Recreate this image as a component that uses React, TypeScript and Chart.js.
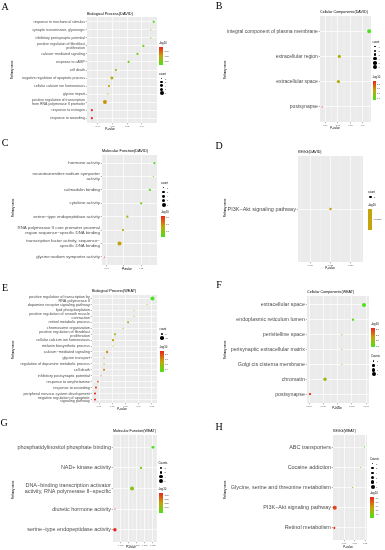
import React, { useEffect, useRef } from "react";
import { Chart, registerables } from "chart.js";
Chart.register(...registerables);

const FONT = "'Liberation Sans', Arial, Helvetica, sans-serif";
const SERIF = "'Liberation Serif', 'Times New Roman', serif";
Chart.defaults.font.family = FONT;

// ---------------- DATA ----------------
// A: Biological Process (DAVID)
const aPathways: (string | string[])[] = [
  "response to mechanical stimulus",
  "synaptic transmission, glycinergic",
  "inhibitory postsynaptic potential",
  ["positive regulation of fibroblast", "proliferation"],
  "calcium−mediated signaling",
  "response to cAMP",
  "cell death",
  "negative regulation of apoptotic process",
  "cellular calcium ion homeostasis",
  "glycine import",
  ["positive regulation of transcription", "from RNA polymerase II promoter"],
  "response to estrogen",
  "response to wounding",
];
const aPValues = [0.048, 0.046, 0.046, 0.041, 0.037, 0.031, 0.0224, 0.0197, 0.0177, 0.017, 0.015, 0.0062, 0.0062];
const aCounts = [3, 2, 2, 3, 3, 3, 3, 4, 3, 2, 6, 3, 3];
const aXTicks = [0.01, 0.02, 0.03, 0.04];
const aColorBreaks = [1.5, 1.75, 2.0];
const aCountBreaks = [2, 3, 4, 5, 6];

// B: Cellular Components (DAVID)
const bPathways: (string | string[])[] = [
  "integral component of plasma membrane",
  "extracellular region",
  "extracellular space",
  "postsynapse",
];
const bPValues = [0.045, 0.0212, 0.0205, 0.0075];
const bCounts = [6, 4, 4, 1];
const bXTicks = [0.01, 0.02, 0.03, 0.04];
const bColorBreaks = [1.4, 1.6, 1.8, 2.0];
const bCountBreaks = [1, 2, 3, 4, 5, 6];

// C: Molecular Function (DAVID)
const cPathways: (string | string[])[] = [
  "hormone activity",
  ["neurotransmitter:sodium symporter", "activity"],
  "calmodulin binding",
  "cytokine activity",
  "serine−type endopeptidase activity",
  ["RNA polymerase II core promoter proximal", "region sequence−specific DNA binding"],
  ["transcription factor activity, sequence−", "specific DNA binding"],
  "glycine:sodium symporter activity",
];
const cPValues = [0.0376, 0.037, 0.035, 0.03, 0.022, 0.0195, 0.0175, 0.0088];
const cCounts = [3, 2, 3, 3, 3, 3, 6, 2];
const cXTicks = [0.01, 0.02, 0.03];
const cColorBreaks = [1.6, 1.8, 2.0];
const cCountBreaks = [2, 3, 4, 5, 6];

// D: KEGG (DAVID)
const dPathways: (string | string[])[] = ["PI3K−Akt signaling pathway"];
const dPValues = [0.025];
const dCounts = [3];
const dXTicks = [0.024, 0.025, 0.026];
const dColorBreaks = [1.60206];
const dCountBreaks = [3];

// E: Biological Process (WEAT)
const ePathways: (string | string[])[] = [
  ["positive regulation of transcription by", "RNA polymerase II"],
  "dopamine receptor signaling pathway",
  "lipid phosphorylation",
  ["positive regulation of smooth muscle", "contraction"],
  "retinol metabolic process",
  "chromosome organization",
  ["positive regulation of fibroblast", "proliferation"],
  "cellular calcium ion homeostasis",
  "melanin biosynthetic process",
  "calcium−mediated signaling",
  "glycine transport",
  "regulation of dopamine metabolic process",
  "cell death",
  "inhibitory postsynaptic potential",
  "response to amphetamine",
  "response to wounding",
  "peripheral nervous system development",
  ["negative regulation of apoptotic", "signaling pathway"],
];
const ePValues = [0.0505, 0.0464, 0.0365, 0.0365, 0.032, 0.0282, 0.0221, 0.0206, 0.0206, 0.0161, 0.0138, 0.0138, 0.0138, 0.0115, 0.0092, 0.0077, 0.007, 0.007];
const eCounts = [12, 2, 2, 2, 4, 2, 4, 5, 2, 5, 2, 2, 4, 2, 3, 4, 4, 4];
const eXTicks = [0.01, 0.02, 0.03, 0.04, 0.05];
const eColorBreaks = [1.4, 1.6, 1.8, 2.0];
const eCountBreaks = [5, 10];

// F: Cellular Components (WEAT)
const fPathways: (string | string[])[] = [
  "extracellular space",
  "endoplasmic reticulum lumen",
  "perivitelline space",
  "perisynaptic extracellular matrix",
  "Golgi cis cisterna membrane",
  "chromatin",
  "postsynapse",
];
const fPValues = [0.0385, 0.0308, 0.023, 0.023, 0.023, 0.0112, 0.0007];
const fCounts = [8, 3, 1, 1, 1, 6, 3];
const fXTicks = [0.0, 0.01, 0.02, 0.03, 0.04];
const fColorBreaks = [1.5, 2.0, 2.5, 3.0];
const fCountBreaks = [2, 4, 6, 8];

// G: Molecular Function (WEAT)
const gPathways: (string | string[])[] = [
  "phosphatidylinositol phosphate binding",
  "NAD+ kinase activity",
  ["DNA−binding transcription activator", "activity, RNA polymerase II−specific"],
  "diuretic hormone activity",
  "serine−type endopeptidase activity",
];
const gPValues = [0.0251, 0.0176, 0.012, 0.0013, 0.0013];
const gCounts = [3, 2, 5, 1, 4];
const gXTicks = [0.005, 0.01, 0.015, 0.02, 0.025];
const gColorBreaks = [2.0, 2.25, 2.5, 2.75];
const gCountBreaks = [2, 3, 4, 5];

// H: KEGG (WEAT)
const hPathways: (string | string[])[] = [
  "ABC transporters",
  "Cocaine addiction",
  "Glycine, serine and threonine metabolism",
  "PI3K−Akt signaling pathway",
  "Retinol metabolism",
];
const hPValues = [0.0295, 0.0257, 0.0181, 0.0012, 0.0008];
const hCounts = [2, 2, 2, 7, 3];
const hXTicks = [0.01, 0.02, 0.03];
const hColorBreaks = [1.8, 2.1, 2.4, 2.7, 3.0];
const hCountBreaks = [2, 3, 4, 5, 6, 7];

// ---------------- STYLE / LAYOUT ----------------
const LOW = [74, 226, 26];
const MID = [196, 164, 10];
const HIGH = [238, 36, 26];
const rgb = (c: number[]) => `rgb(${c.map((v) => Math.round(v)).join(",")})`;
function heat(t: number) {
  t = Math.max(0, Math.min(1, t));
  const mix = (a: number[], b: number[], u: number) => a.map((v, i) => v + (b[i] - v) * u);
  return rgb(t < 0.5 ? mix(LOW, MID, t * 2) : mix(MID, HIGH, (t - 0.5) * 2));
}
const RMIN = 0.55, RMAX = 2.0;
function sizeFor(c: number, cmin: number, cmax: number) {
  if (cmax === cmin) return 1.25;
  const t = (c - cmin) / (cmax - cmin);
  return Math.sqrt(RMIN * RMIN + t * (RMAX * RMAX - RMIN * RMIN));
}

const PADT = 8, PADR = 8, XH = 6;

interface Panel {
  letter: string; title: string;
  pathways: (string | string[])[]; pvalues: number[]; counts: number[];
  xTicks: number[]; xDigits: number; colorBreaks: number[]; colorDigits: number;
  countBreaks: number[]; countTitle: string;
  col: number; plot: [number, number, number, number]; xRange: [number, number];
  labelSize: number; titleSize: number;
  letterPos: [number, number]; pathwayPos: [number, number]; pvaluePos: [number, number];
  legendX: number; countY: number; dotGap: number; colorY: number; barW: number; barH: number;
}

const panels: Panel[] = [
  {
    letter: "A", title: "Biological Process(DAVID)", pathways: aPathways, pvalues: aPValues, counts: aCounts,
    xTicks: aXTicks, xDigits: 2, colorBreaks: aColorBreaks, colorDigits: 2, countBreaks: aCountBreaks, countTitle: "count",
    col: 0, plot: [87, 17, 157, 123], xRange: [0.0029, 0.0502], labelSize: 3.55, titleSize: 3.9,
    letterPos: [5, 7], pathwayPos: [12, 70], pvaluePos: [110, 128.5],
    legendX: 159, countY: 74, dotGap: 3.5, colorY: 43, barW: 4, barH: 18,
  },
  {
    letter: "B", title: "Cellular Components(DAVID)", pathways: bPathways, pvalues: bPValues, counts: bCounts,
    xTicks: bXTicks, xDigits: 2, colorBreaks: bColorBreaks, colorDigits: 1, countBreaks: bCountBreaks, countTitle: "count",
    col: 192, plot: [320, 16, 371, 122], xRange: [0.0058, 0.0465], labelSize: 5, titleSize: 3.7,
    letterPos: [219, 6], pathwayPos: [225, 70], pvaluePos: [335, 128],
    legendX: 372.5, countY: 42, dotGap: 4, colorY: 77, barW: 3, barH: 19,
  },
  {
    letter: "C", title: "Molecular Function(DAVID)", pathways: cPathways, pvalues: cPValues, counts: cCounts,
    xTicks: cXTicks, xDigits: 2, colorBreaks: cColorBreaks, colorDigits: 1, countBreaks: cCountBreaks, countTitle: "count",
    col: 0, plot: [102, 155, 157, 265], xRange: [0.0074, 0.0391], labelSize: 4.35, titleSize: 3.8,
    letterPos: [5, 143], pathwayPos: [13, 208], pvaluePos: [127, 269],
    legendX: 161, countY: 183, dotGap: 4.2, colorY: 212, barW: 3.5, barH: 21,
  },
  {
    letter: "D", title: "KEGG(DAVID)", pathways: dPathways, pvalues: dPValues, counts: dCounts,
    xTicks: dXTicks, xDigits: 3, colorBreaks: dColorBreaks, colorDigits: 5, countBreaks: dCountBreaks, countTitle: "count",
    col: 192, plot: [298, 156, 363, 262], xRange: [0.0234, 0.0266], labelSize: 5.5, titleSize: 3.6,
    letterPos: [219, 146], pathwayPos: [225, 208], pvaluePos: [330, 268],
    legendX: 368, countY: 192, dotGap: 4, colorY: 205, barW: 4, barH: 21,
  },
  {
    letter: "E", title: "Biological Process(WEAT)", pathways: ePathways, pvalues: ePValues, counts: eCounts,
    xTicks: eXTicks, xDigits: 2, colorBreaks: eColorBreaks, colorDigits: 1, countBreaks: eCountBreaks, countTitle: "count",
    col: 0, plot: [92, 295, 157, 403], xRange: [0.0047, 0.0539], labelSize: 3.75, titleSize: 3.8,
    letterPos: [5, 288], pathwayPos: [13, 350], pvaluePos: [122, 408.5],
    legendX: 159.5, countY: 329, dotGap: 4.5, colorY: 347, barW: 4, barH: 21,
  },
  {
    letter: "F", title: "Cellular Components(WEAT)", pathways: fPathways, pvalues: fPValues, counts: fCounts,
    xTicks: fXTicks, xDigits: 3, colorBreaks: fColorBreaks, colorDigits: 1, countBreaks: fCountBreaks, countTitle: "Counts",
    col: 192, plot: [307, 296, 369, 403], xRange: [-0.0014, 0.042], labelSize: 5.3, titleSize: 3.7,
    letterPos: [219, 285], pathwayPos: [225, 350], pvaluePos: [337, 408],
    legendX: 371, countY: 356, dotGap: 4.5, colorY: 324, barW: 3.5, barH: 19.5,
  },
  {
    letter: "G", title: "Molecular Function(WEAT)", pathways: gPathways, pvalues: gPValues, counts: gCounts,
    xTicks: gXTicks, xDigits: 3, colorBreaks: gColorBreaks, colorDigits: 2, countBreaks: gCountBreaks, countTitle: "Counts",
    col: 0, plot: [113, 435, 157, 542], xRange: [0.0001, 0.0276], labelSize: 5.45, titleSize: 3.6,
    letterPos: [4, 423], pathwayPos: [13, 490], pvaluePos: [131, 546.5],
    legendX: 158.5, countY: 463, dotGap: 4.4, colorY: 489, barW: 4.5, barH: 20.5,
  },
  {
    letter: "H", title: "KEGG(WEAT)", pathways: hPathways, pvalues: hPValues, counts: hCounts,
    xTicks: hXTicks, xDigits: 2, colorBreaks: hColorBreaks, colorDigits: 1, countBreaks: hCountBreaks, countTitle: "Counts",
    col: 192, plot: [333, 435, 367, 540], xRange: [-0.0005, 0.0319], labelSize: 5.45, titleSize: 3.6,
    letterPos: [219, 427], pathwayPos: [225, 490], pvaluePos: [348, 547],
    legendX: 370, countY: 459, dotGap: 4.6, colorY: 493, barW: 4, barH: 21,
  },
];

const bgPlugin = {
  id: "panelBg",
  beforeDraw(chart: any) {
    const { ctx, chartArea: a, scales } = chart;
    ctx.save();
    ctx.fillStyle = "#ebebeb";
    ctx.fillRect(a.left, a.top, a.right - a.left, a.bottom - a.top);
    const xs = scales.x;
    const tv: number[] = xs.ticks.map((t: any) => t.value);
    if (tv.length > 1) {
      const step = tv[1] - tv[0];
      const mids = [tv[0] - step / 2, ...tv.map((v) => v + step / 2)];
      ctx.strokeStyle = "rgba(255,255,255,0.7)";
      ctx.lineWidth = 0.35;
      mids.forEach((m) => {
        if (m <= xs.min || m >= xs.max) return;
        const px = xs.getPixelForValue(m);
        ctx.beginPath();
        ctx.moveTo(px, a.top);
        ctx.lineTo(px, a.bottom);
        ctx.stroke();
      });
    }
    ctx.restore();
  },
};

function logRange(p: Panel) {
  const lv = p.pvalues.map((v) => -Math.log10(v));
  return { lv, vmin: Math.min(...lv), vmax: Math.max(...lv) };
}

function PanelChart({ p }: { p: Panel }) {
  const ref = useRef<HTMLCanvasElement>(null);
  const [l, t, r, b] = p.plot;
  const left = p.col, top = t - PADT;
  const width = r + PADR - p.col, height = b + XH - top;
  useEffect(() => {
    const { lv, vmin, vmax } = logRange(p);
    const colors = lv.map((v) => heat(vmax > vmin ? (v - vmin) / (vmax - vmin) : 0.5));
    const cmin = Math.min(...p.counts), cmax = Math.max(...p.counts);
    const n = p.pathways.length;
    const grid = { color: "#ffffff", lineWidth: 0.7, drawTicks: true, tickLength: 1.3, tickColor: "#444444", tickWidth: 0.4 };
    const chart = new Chart(ref.current as HTMLCanvasElement, {
      type: "bubble",
      data: {
        datasets: [
          {
            data: p.pvalues.map((v, i) => ({ x: v, y: i, r: sizeFor(p.counts[i], cmin, cmax) })),
            backgroundColor: colors,
            borderWidth: 0,
            hoverBorderWidth: 0,
          },
        ],
      },
      options: {
        animation: false,
        responsive: false,
        maintainAspectRatio: false,
        events: [],
        layout: { padding: { top: PADT, right: PADR, left: 0, bottom: 0 } },
        plugins: { legend: { display: false }, tooltip: { enabled: false } },
        scales: {
          x: {
            type: "linear",
            min: p.xRange[0],
            max: p.xRange[1],
            afterBuildTicks: (s: any) => { s.ticks = p.xTicks.map((v) => ({ value: v })); },
            afterFit: (s: any) => { s.height = XH; },
            ticks: { font: { size: 2.2 }, color: "#555555", padding: 0.6, maxRotation: 0, autoSkip: false,
              callback: (v: any) => Number(v).toFixed(p.xDigits) },
            grid,
            border: { display: false },
          },
          y: {
            type: "linear",
            reverse: true,
            min: -0.6,
            max: n - 0.4,
            afterBuildTicks: (s: any) => { s.ticks = p.pathways.map((_, i) => ({ value: i })); },
            afterFit: (s: any) => { s.width = l - p.col; },
            ticks: { font: { size: p.labelSize, lineHeight: 1.05 }, color: "#4d4d4d", padding: 0.8, autoSkip: false,
              callback: (v: any) => p.pathways[Math.round(Number(v))] as any },
            grid,
            border: { display: false },
          },
        },
      } as any,
      plugins: [bgPlugin],
    });
    return () => chart.destroy();
  }, []);
  return (
    <canvas ref={ref} width={width} height={height}
      style={{ position: "absolute", left, top, width, height }} />
  );
}

function Txt(props: { x: number; y: number; size: number; text: string; anchor?: "start" | "middle"; rotate?: boolean; family?: string; color?: string }) {
  const { x, y, size, text, anchor = "start", rotate, family = FONT, color = "#000" } = props;
  const tx = anchor === "middle" ? "-50%" : "0";
  return (
    <div style={{
      position: "absolute", left: x, top: y, whiteSpace: "nowrap", fontFamily: family, fontSize: size,
      lineHeight: 1, color, transform: `translate(${tx}, -50%)${rotate ? " rotate(-90deg)" : ""}`,
      transformOrigin: rotate ? "50% 50%" : undefined,
    }}>{text}</div>
  );
}

function Legends({ p }: { p: Panel }) {
  const { vmin, vmax } = logRange(p);
  const cmin = Math.min(...p.counts), cmax = Math.max(...p.counts);
  const items: React.ReactNode[] = [];
  items.push(<Txt key="ct" x={p.legendX} y={p.countY} size={2.8} text={p.countTitle} />);
  p.countBreaks.forEach((c, i) => {
    const cy = p.countY + 4.8 + i * p.dotGap;
    const rr = sizeFor(c, cmin, cmax);
    items.push(<div key={"d" + i} style={{ position: "absolute", left: p.legendX + 2.5 - rr, top: cy - rr, width: rr * 2, height: rr * 2, borderRadius: "50%", background: "#000" }} />);
    items.push(<Txt key={"dl" + i} x={p.legendX + 6} y={cy} size={2.2} text={String(c)} color="#333" />);
  });
  items.push(<Txt key="lt" x={p.legendX} y={p.colorY} size={2.8} text="-log10" />);
  const barTop = p.colorY + 3.5;
  const grad = vmax > vmin ? `linear-gradient(to bottom, ${rgb(HIGH)}, ${rgb(MID)}, ${rgb(LOW)})` : rgb(MID);
  items.push(<div key="bar" style={{ position: "absolute", left: p.legendX, top: barTop, width: p.barW, height: p.barH, background: grad }} />);
  p.colorBreaks.forEach((v, i) => {
    const cy = vmax > vmin ? barTop + ((vmax - v) / (vmax - vmin)) * p.barH : barTop + p.barH / 2;
    items.push(<Txt key={"cl" + i} x={p.legendX + p.barW + 1.5} y={cy} size={2.2} text={v.toFixed(p.colorDigits)} color="#333" />);
  });
  return <>{items}</>;
}

function PanelOverlay({ p }: { p: Panel }) {
  const [l, t] = p.plot;
  return (
    <>
      <Txt x={p.letterPos[0]} y={p.letterPos[1]} size={10} text={p.letter} anchor="middle" family={SERIF} />
      <Txt x={l} y={t - 3.5} size={p.titleSize} text={p.title} />
      <Txt x={p.pathwayPos[0]} y={p.pathwayPos[1]} size={2.8} text="Pathway name" anchor="middle" rotate />
      <Txt x={p.pvaluePos[0]} y={p.pvaluePos[1]} size={2.8} text="P-value" anchor="middle" />
      <Legends p={p} />
    </>
  );
}

export default function App() {
  return (
    <div style={{ position: "absolute", left: 0, top: 0, width: 385, height: 550, background: "#fff", overflow: "hidden" }}>
      {panels.map((p) => (
        <React.Fragment key={p.letter}>
          <PanelChart p={p} />
          <PanelOverlay p={p} />
        </React.Fragment>
      ))}
    </div>
  );
}
